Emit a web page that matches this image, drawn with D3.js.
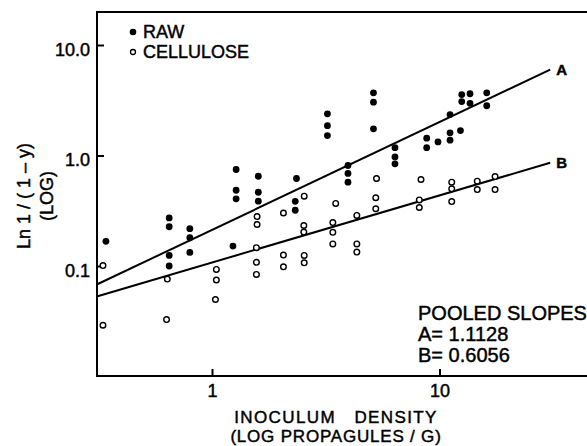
<!DOCTYPE html>
<html>
  <head>
    <meta charset="utf-8">
    <title>Inoculum density</title>
    <script src="https://d3js.org/d3.v7.min.js"></script>
    <style>
      body { margin: 0; background: #fff; }
      text { font-family: "Liberation Sans", Arial, sans-serif; fill: #000; stroke: #000; stroke-width: 0.45px; }
    </style>
  </head>
  <body>
    <svg width="587" height="446"></svg>
    <script>
      // values: [density, Ln 1/(1-y)]
      var rawPoints = [
        [0.34, 0.169], [0.645, 0.275], [0.645, 0.229], [0.645, 0.126], [0.645, 0.101],
        [0.795, 0.22], [0.795, 0.182], [0.795, 0.134], [1.23, 0.153],
        [1.27, 0.755], [1.27, 0.49], [1.27, 0.41],
        [1.59, 0.656], [1.59, 0.47], [1.59, 0.39],
        [2.34, 0.626], [2.31, 0.389], [2.31, 0.323],
        [3.2, 2.41], [3.2, 1.88], [3.2, 1.53],
        [3.94, 0.82], [3.94, 0.695], [3.94, 0.579],
        [5.1, 3.73], [5.1, 3.07], [5.1, 1.76],
        [6.34, 1.19], [6.34, 0.98], [6.34, 0.85],
        [8.74, 1.45], [8.74, 1.19], [9.8, 1.34],
        [11.07, 2.37], [11.07, 1.62], [11.07, 1.39], [12.3, 1.7],
        [12.46, 3.6], [12.46, 3.11], [13.55, 3.66], [13.55, 3.0],
        [16.05, 3.73], [16.05, 2.85]
      ];
      var cellulosePoints = [
        [0.33, 0.102], [0.33, 0.0294], [0.633, 0.0769], [0.628, 0.0331],
        [1.04, 0.094], [1.04, 0.0755], [1.03, 0.0503],
        [1.57, 0.283], [1.57, 0.24], [1.56, 0.148], [1.56, 0.109], [1.56, 0.0847],
        [2.05, 0.305], [2.05, 0.127], [2.05, 0.0994],
        [2.53, 0.433], [2.52, 0.235], [2.52, 0.205], [2.53, 0.126], [2.53, 0.108],
        [3.48, 0.372], [3.38, 0.25], [3.38, 0.204], [3.38, 0.16],
        [4.31, 0.29], [4.31, 0.16], [4.31, 0.135],
        [5.26, 0.626], [5.22, 0.419], [5.22, 0.333],
        [8.25, 0.613], [8.11, 0.40], [8.11, 0.342],
        [11.26, 0.579], [11.26, 0.505], [11.26, 0.387],
        [14.58, 0.592], [14.58, 0.497], [17.46, 0.652], [17.46, 0.497]
      ];
      // fitted lines, end points
      var lineA = [[0.31, 0.0687], [30.5, 6.06]];
      var lineB = [[0.31, 0.0535], [30.5, 0.868]];
      var xTicks = [1, 10];
      var xTickLabels = ["1", "10"];
      var yTicks = [10, 1, 0.1];
      var yTickLabels = ["10.0", "1.0", "0.1"];
      var slopeLines = ["POOLED SLOPES", "A= 1.1128", "B= 0.6056"];

      // plot box in pixels (no right side drawn)
      var plotLeft = 97, plotTop = 12, plotBottom = 376, plotRight = 587;

      var svg = d3.select("svg");

      var x = d3.scaleLog().domain([1, 10]).range([212.5, 440]);
      var y = d3.scaleLog().domain([0.1, 10]).range([266.5, 45.5]);

      var frame = svg.append("g")
          .attr("fill", "none")
          .attr("stroke", "#000")
          .attr("stroke-width", 2);
      frame.append("path")
          .attr("d", "M" + plotRight + "," + plotTop + "H" + plotLeft + "V" + plotBottom + "H" + plotRight);

      // ticks point inward
      frame.selectAll(".xt")
          .data(xTicks)
          .enter().append("line")
          .attr("x1", function(d) { return x(d); })
          .attr("x2", function(d) { return x(d); })
          .attr("y1", plotBottom)
          .attr("y2", plotBottom - 7);
      frame.selectAll(".yt")
          .data(yTicks)
          .enter().append("line")
          .attr("x1", plotLeft)
          .attr("x2", plotLeft + 7)
          .attr("y1", function(d) { return y(d); })
          .attr("y2", function(d) { return y(d); });

      svg.selectAll(".xl")
          .data(xTicks)
          .enter().append("text")
          .attr("x", function(d) { return x(d); })
          .attr("y", 397)
          .attr("text-anchor", "middle")
          .attr("font-size", 18)
          .text(function(d, i) { return xTickLabels[i]; });

      svg.selectAll(".yl")
          .data(yTicks)
          .enter().append("text")
          .attr("x", 90)
          .attr("y", function(d) { return y(d) + 10; })
          .attr("text-anchor", "end")
          .attr("font-size", 18)
          .text(function(d, i) { return yTickLabels[i]; });

      // axis titles
      svg.append("text")
          .attr("x", 336).attr("y", 423)
          .attr("text-anchor", "middle")
          .attr("font-size", 17)
          .attr("letter-spacing", 1.4)
          .style("white-space", "pre")
          .text("INOCULUM   DENSITY");
      svg.append("text")
          .attr("x", 336).attr("y", 442)
          .attr("text-anchor", "middle")
          .attr("font-size", 17)
          .attr("letter-spacing", 0.8)
          .style("white-space", "pre")
          .text("(LOG PROPAGULES / G)");

      svg.append("text")
          .attr("transform", "translate(30,196) rotate(-90)")
          .attr("text-anchor", "middle")
          .attr("font-size", 18)
          .style("white-space", "pre")
          .text("Ln 1 / ( 1 \u2013 y)");
      svg.append("text")
          .attr("transform", "translate(53,196) rotate(-90)")
          .attr("text-anchor", "middle")
          .attr("font-size", 18)
          .text("(LOG)");

      // regression lines
      var line = d3.line()
          .x(function(d) { return x(d[0]); })
          .y(function(d) { return y(d[1]); });
      svg.selectAll(".fit")
          .data([lineA, lineB])
          .enter().append("path")
          .attr("d", line)
          .attr("fill", "none")
          .attr("stroke", "#000")
          .attr("stroke-width", 2);

      svg.append("text")
          .attr("x", x(lineA[1][0]) + 6).attr("y", y(lineA[1][1]) + 5)
          .attr("font-size", 15).attr("font-weight", "bold")
          .text("A");
      svg.append("text")
          .attr("x", x(lineB[1][0]) + 6).attr("y", y(lineB[1][1]) + 5)
          .attr("font-size", 15).attr("font-weight", "bold")
          .text("B");

      // points
      svg.append("g")
          .selectAll("circle")
          .data(cellulosePoints)
          .enter().append("circle")
          .attr("cx", function(d) { return x(d[0]); })
          .attr("cy", function(d) { return y(d[1]); })
          .attr("r", 2.8)
          .attr("fill", "#fff")
          .attr("stroke", "#000")
          .attr("stroke-width", 1.4);
      svg.append("g")
          .selectAll("circle")
          .data(rawPoints)
          .enter().append("circle")
          .attr("cx", function(d) { return x(d[0]); })
          .attr("cy", function(d) { return y(d[1]); })
          .attr("r", 3.4)
          .attr("fill", "#000");

      // legend
      var legend = svg.append("g");
      legend.append("circle")
          .attr("cx", 133).attr("cy", 32).attr("r", 3.3).attr("fill", "#000");
      legend.append("circle")
          .attr("cx", 133).attr("cy", 52).attr("r", 2.5)
          .attr("fill", "#fff").attr("stroke", "#000").attr("stroke-width", 1.3);
      legend.append("text").attr("x", 143).attr("y", 38).attr("font-size", 18).text("RAW");
      legend.append("text").attr("x", 143).attr("y", 58).attr("font-size", 18).text("CELLULOSE");

      // pooled slopes note
      svg.append("g")
          .selectAll("text")
          .data(slopeLines)
          .enter().append("text")
          .attr("x", 418)
          .attr("y", function(d, i) { return 320 + i * 21; })
          .attr("font-size", 20)
          .style("white-space", "pre")
          .text(function(d) { return d; });
    </script>
  </body>
</html>
